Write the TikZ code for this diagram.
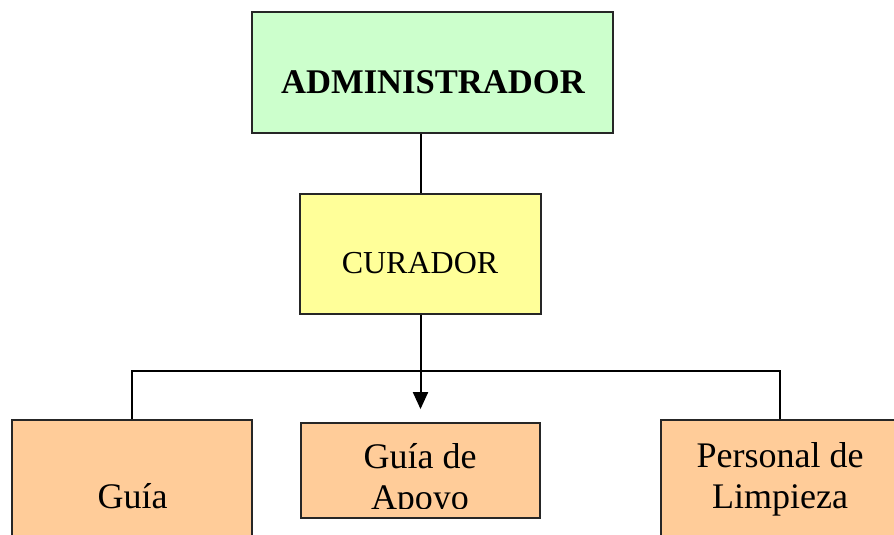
\documentclass[tikz,border=0pt]{standalone}
\usepackage{fontspec}
\setmainfont{Liberation Serif}
\usetikzlibrary{arrows.meta}
\begin{document}
\begin{tikzpicture}[x=1pt,y=-1pt,
    box/.style={draw=black!85,line width=1.8pt,inner sep=0pt,rectangle},
    word/.style={anchor=base,inner sep=0pt,align=center,font=\fontsize{36}{41}\selectfont}]
  \clip (0,0) rectangle (894,535);
  \node[box,fill={rgb,255:red,204;green,255;blue,204},minimum width=361pt,minimum height=121pt] (admin) at (432.5,72.5) {};
  \node[box,fill={rgb,255:red,255;green,255;blue,153},minimum width=241pt,minimum height=120pt] (cur) at (420.5,254) {};
  \node[box,fill={rgb,255:red,255;green,204;blue,153},minimum width=240pt,minimum height=140pt] (guia) at (132,490) {};
  \node[box,fill={rgb,255:red,255;green,204;blue,153},minimum width=239pt,minimum height=95pt] (apoyo) at (420.5,470.5) {};
  \node[box,fill={rgb,255:red,255;green,204;blue,153},minimum width=238pt,minimum height=140pt] (limp) at (780,490) {};
  \node[word,font=\fontsize{34.6}{40}\selectfont\bfseries] (admintext) at (433,93) {ADMINISTRADOR};
  \node[word,font=\fontsize{32}{38}\selectfont] (curtext) at (420,273) {CURADOR};
  \node[word] (guiatext) at (132.5,508) {Guía};
  \begin{scope}
    \clip (302,424) rectangle (539,508);
    \node[word] (apoyotext) at (420,509) {Guía de\\Apoyo};
  \end{scope}
  \node[word] (limptext) at (780,508) {Personal de\\Limpieza};
  \begin{scope}[line width=2pt]
    \draw (cur.north |- admin.south) -- (cur.north);
    \draw[-{Triangle[length=17pt,width=15pt]},shorten >=13pt] (cur.south) -- (apoyo.north);
    \draw (guia.north) -- ++(0,-48) -| (limp.north);
  \end{scope}
\end{tikzpicture}
\end{document}
